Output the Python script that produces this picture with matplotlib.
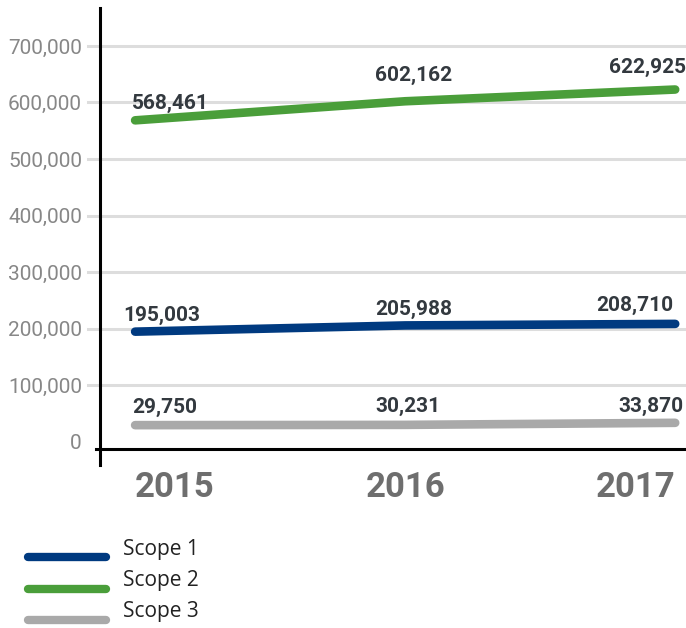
import matplotlib
matplotlib.use('Agg')
import matplotlib.pyplot as plt
from matplotlib import font_manager
from matplotlib.lines import Line2D
from matplotlib.ticker import FuncFormatter

# ── Data ─────────────────────────────────────────────────────────
YEARS   = [2015, 2016, 2017]
SCOPE_1 = [195003, 205988, 208710]
SCOPE_2 = [568461, 602162, 622925]
SCOPE_3 = [29750, 30231, 33870]
Y_TICKS = [0, 100000, 200000, 300000, 400000, 500000, 600000, 700000]
SERIES_NAMES = ['Scope 1', 'Scope 2', 'Scope 3']

# ── Style ────────────────────────────────────────────────────────
COLORS = {
    'Scope 1': '#003a80',
    'Scope 2': '#4a9e3a',
    'Scope 3': '#a9a9a9',
}
GRID_COLOR  = '#dddddd'
TICK_COLOR  = '#878787'
LABEL_COLOR = '#33393f'
YEAR_COLOR  = '#6e6e6e'

available = {f.name for f in font_manager.fontManager.ttflist}
NARROW = next((f for f in ['Liberation Sans Narrow', 'DejaVu Sans Condensed',
                           'Roboto'] if f in available), 'DejaVu Sans')
BASE = 'Roboto' if 'Roboto' in available else 'DejaVu Sans'
LEGEND_FONT = 'Open Sans' if 'Open Sans' in available else BASE

# label offsets in px (dx, dy up) and alignment per year column
LABEL_LAYOUT = {
    'Scope 1': [(-12, 16, 'left'), (-30, 16, 'left'), (-2, 18, 'right')],
    'Scope 2': [(-3, 17, 'left'), (-30, 26, 'left'), (11, 22, 'right')],
    'Scope 3': [(-3, 18, 'left'), (-30, 18, 'left'), (8, 16, 'right')],
}

W, H = 686, 628
fig = plt.figure(figsize=(W / 100, H / 100), dpi=100)
fig.patch.set_facecolor('white')

left, right, top, bottom = 100, 686, 8, 449
ax = fig.add_axes([left / W, 1 - bottom / H, (right - left) / W,
                   (bottom - top) / H])

ax.set_xlim(2014.87, 2017.04)
ax.set_ylim(-12400, 767000)

for spine in ax.spines.values():
    spine.set_visible(False)

# gridlines extend a little left of the axis
for y in Y_TICKS[1:]:
    ax.axhline(y, xmin=-0.021, xmax=1, color=GRID_COLOR, lw=2.2,
               clip_on=False, zorder=1)

# axis lines
ax.plot([0, 0], [-0.036, 1], transform=ax.transAxes, color='black',
        lw=2.2, clip_on=False, zorder=2)
ax.plot([-0.006, 1], [0, 0], transform=ax.transAxes, color='black',
        lw=2.2, clip_on=False, zorder=2)

series = {'Scope 1': SCOPE_1, 'Scope 2': SCOPE_2, 'Scope 3': SCOPE_3}
for name in SERIES_NAMES:
    vals = series[name]
    ax.plot(YEARS, vals, color=COLORS[name], lw=6.2,
            solid_capstyle='round', solid_joinstyle='round', zorder=3)
    for (x, v), (dx, dy, ha) in zip(zip(YEARS, vals), LABEL_LAYOUT[name]):
        ax.annotate(f'{v:,}', (x, v), xytext=(dx * 0.72, dy * 0.72),
                    textcoords='offset points', ha=ha, va='center',
                    fontsize=15, fontweight='bold', color=LABEL_COLOR,
                    family=BASE, zorder=4)

ax.set_yticks(Y_TICKS)
ax.yaxis.set_major_formatter(FuncFormatter(lambda v, p: f'{int(v):,}'))
ax.tick_params(axis='y', length=0, pad=13, labelsize=15,
               labelcolor=TICK_COLOR)
for lab in ax.get_yticklabels():
    lab.set_family(BASE)

ax.set_xticks(YEARS)
ax.set_xticklabels([str(y) for y in YEARS])
ax.tick_params(axis='x', length=0, pad=16, labelsize=25,
               labelcolor=YEAR_COLOR)
for lab, ha in zip(ax.get_xticklabels(), ['left', 'center', 'right']):
    lab.set_family(NARROW)
    lab.set_fontweight('bold')
    lab.set_ha(ha)

# legend drawn by hand at the bottom left
for i, name in enumerate(SERIES_NAMES):
    ly = 557 + i * 31.5
    fig.add_artist(Line2D([28 / W, 106 / W], [1 - ly / H, 1 - ly / H],
                          transform=fig.transFigure, color=COLORS[name],
                          lw=6, solid_capstyle='round'))
    fig.text(123 / W, 1 - (ly - 8) / H, name, ha='left', va='center',
             fontsize=15, color='#222222', family=LEGEND_FONT)

fig.savefig('out.png', dpi=100, facecolor='white')
